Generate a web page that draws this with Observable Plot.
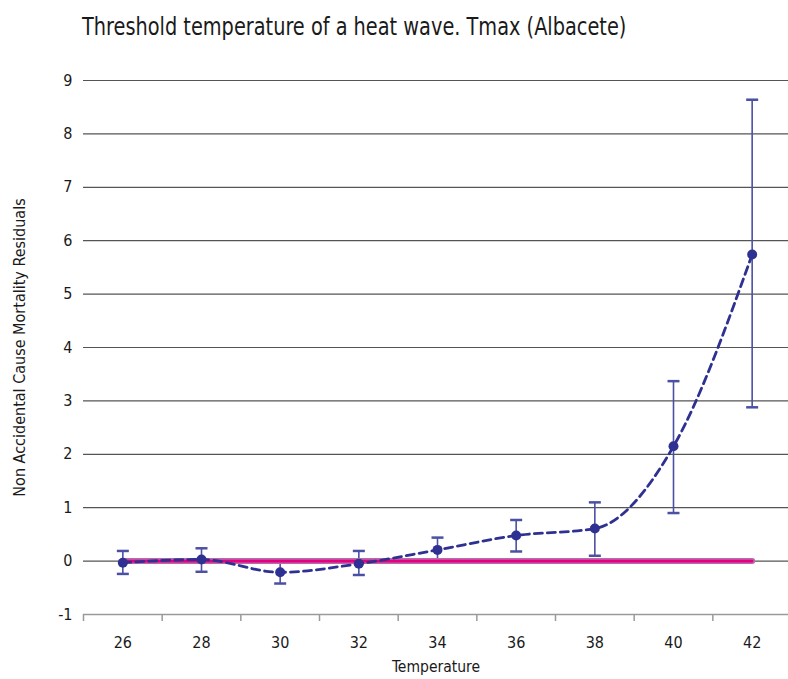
<!DOCTYPE html>
<html>
<head>
<meta charset="utf-8">
<script src="https://cdn.jsdelivr.net/npm/d3@7"></script>
<script src="https://cdn.jsdelivr.net/npm/@observablehq/plot@0.6"></script>
<style>
  html, body { margin: 0; padding: 0; background: #fff; }
  body { position: relative; width: 788px; height: 679px; overflow: hidden;
         font-family: "DejaVu Sans Condensed", "DejaVu Sans", sans-serif; }
  #title { position: absolute; left: 82px; top: 13px; font-size: 24px; color: #1a1a1a; white-space: nowrap;
           transform: scaleX(0.895); transform-origin: left top; }
  #chart { position: absolute; left: 0; top: 0; }
</style>
</head>
<body>
<div id="chart"></div>
<div id="title">Threshold temperature of a heat wave. Tmax (Albacete)</div>
<script>
const temperatures = [26, 28, 30, 32, 34, 36, 38, 40, 42];
const residuals    = [-0.03, 0.03, -0.21, -0.05, 0.21, 0.48, 0.61, 2.15, 5.74];
const lowerCI      = [-0.24, -0.20, -0.42, -0.26, 0.00, 0.18, 0.10, 0.90, 2.88];
const upperCI      = [0.19, 0.24, 0.00, 0.19, 0.44, 0.77, 1.10, 3.37, 8.64];
const threshold    = [0, 0, 0, 0, 0, 0, 0, 0, 0];
const yTicks       = [-1, 0, 1, 2, 3, 4, 5, 6, 7, 8, 9];

const data = temperatures.map((t, i) => ({
  t, r: residuals[i], lo: lowerCI[i], hi: upperCI[i], th: threshold[i]
}));
const bandEdges = [...temperatures.map(t => t - 1), temperatures[temperatures.length - 1] + 1];

const cap = {
  draw(context, size) {
    const w = Math.sqrt(size / Math.PI);
    context.moveTo(-w, 0);
    context.lineTo(w, 0);
  }
};

const font = '"DejaVu Sans Condensed", "DejaVu Sans", sans-serif';
const navy = "#2e3192";
const barColor = "#4b50a3";

const chart = Plot.plot({
  width: 788,
  height: 679,
  marginTop: 80,
  marginBottom: 65,
  marginLeft: 83,
  marginRight: 0,
  style: { fontFamily: font, fontSize: "16px", color: "#1a1a1a", background: "transparent" },
  x: { type: "linear", domain: [25, 43], range: [83, 791] },
  y: { domain: [-1, 9], range: [614, 80] },
  marks: [
    Plot.ruleY(yTicks.filter(v => v > -1), { x1: 25, x2: 43, stroke: "#555", strokeWidth: 1.2 }),
    Plot.ruleY([-1], { x1: 25, x2: 43, stroke: "#9a9a9a", strokeWidth: 1.5 }),
    Plot.axisY({ ticks: yTicks, tickSize: 0, tickPadding: 11, label: null, fontSize: 16, tickFormat: d => String(d) }),
    Plot.axisX({ ticks: temperatures, tickSize: 0, tickPadding: 22, label: null, fontSize: 16 }),
    Plot.axisX({ ticks: bandEdges, tickSize: 7, tickFormat: () => "", label: null, stroke: "#9a9a9a", strokeWidth: 1.5 }),
    Plot.text(["Non Accidental Cause Mortality Residuals"], { frameAnchor: "left", textAnchor: "middle", rotate: -90, dx: -64, fontSize: 16, fill: "#1a1a1a" }),
    Plot.text(["Temperature"], { frameAnchor: "bottom", dy: 57, fontSize: 15.5, fill: "#1a1a1a" }),
    Plot.ruleX(data, { x: "t", y1: "lo", y2: "hi", stroke: barColor, strokeWidth: 1.6 }),
    Plot.dot(data, { x: "t", y: "hi", symbol: cap, r: 6, stroke: barColor, strokeWidth: 2.5, fill: "none" }),
    Plot.dot(data, { x: "t", y: "lo", symbol: cap, r: 6, stroke: barColor, strokeWidth: 2.5, fill: "none" }),
    Plot.lineY(data, { x: "t", y: "th", stroke: "#b86aac", strokeWidth: 6 }),
    Plot.lineY(data, { x: "t", y: "th", stroke: "#e6007e", strokeWidth: 2.6 }),
    Plot.lineY(data, { x: "t", y: "r", stroke: navy, strokeWidth: 2.8, strokeDasharray: "8,5", curve: "monotone-x" }),
    Plot.dot(data, { x: "t", y: "r", r: 5, fill: navy })
  ]
});
document.getElementById("chart").appendChild(chart);
</script>
</body>
</html>
